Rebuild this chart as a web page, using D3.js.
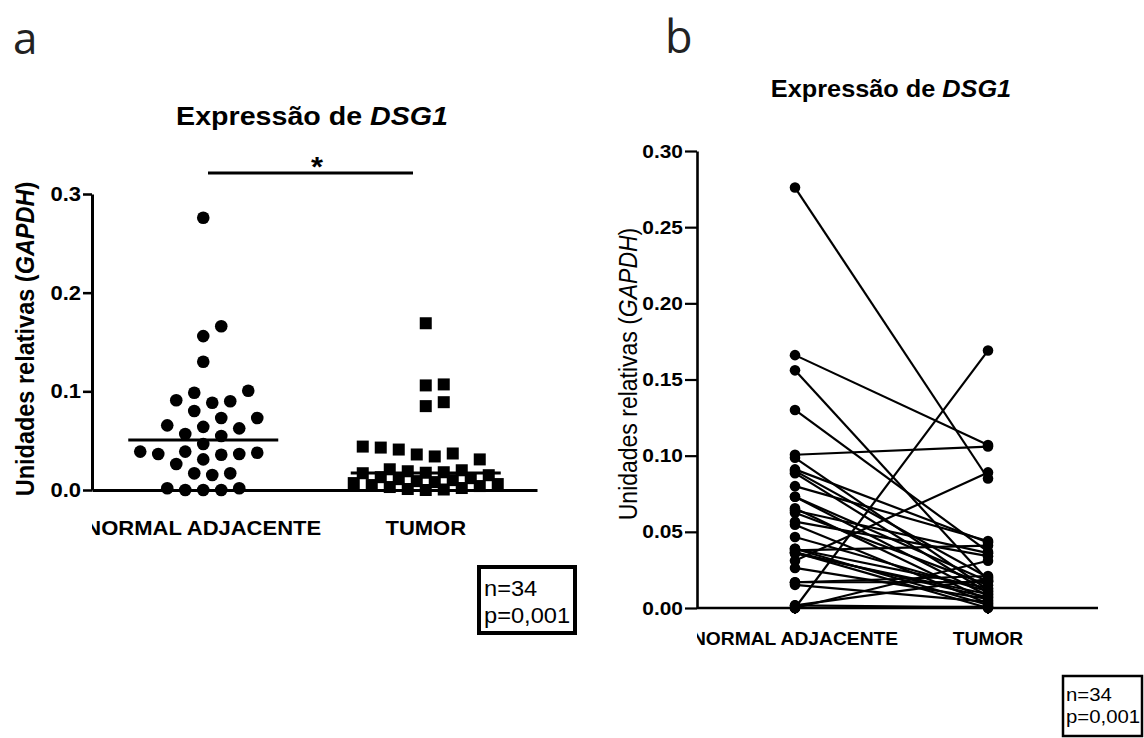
<!DOCTYPE html>
<html>
<head>
<meta charset="utf-8">
<script src="https://cdn.jsdelivr.net/npm/d3@7"></script>
<style>
  html, body { margin: 0; padding: 0; background: #ffffff; }
  svg { display: block; font-family: "Liberation Sans", Arial, Helvetica, sans-serif; }
</style>
</head>
<body>
<svg id="chart" width="1144" height="738"></svg>
<script>
// ---- data -------------------------------------------------------------
const categories = ["NORMAL ADJACENTE", "TUMOR"];

// relative DSG1 expression (GAPDH), paired per patient (index i = same patient)
const normalValues = [
  0.276, 0.166, 0.156, 0.130, 0.1006, 0.0986, 0.091, 0.0885, 0.090, 0.080,
  0.073, 0.073, 0.064, 0.0655, 0.0625, 0.0567, 0.0547, 0.0466, 0.0378, 0.0365,
  0.0389, 0.031, 0.0358, 0.0365, 0.0389, 0.0263, 0.0169, 0.0169, 0.0152, 0.0017,
  0.000, 0.000, 0.000, 0.0017
];
const tumorValues = [
  0.085, 0.107, 0.018, 0.037, 0.106, 0.012, 0.043, 0.010, 0.020, 0.044,
  0.008, 0.0175, 0.036, 0.005, 0.015, 0.034, 0.003, 0.011, 0.041, 0.007,
  0.013, 0.089, 0.009, 0.000, 0.002, 0.006, 0.021, 0.017, 0.004, 0.019,
  0.169, 0.001, 0.031, 0.0005
];

const yTicksA = [0, 0.1, 0.2, 0.3];
const yTicksB = [0, 0.05, 0.10, 0.15, 0.20, 0.25, 0.30];

const titleMain = "Expressão de ";
const titleGene = "DSG1";
const yLabelMain = "Unidades relativas (";
const yLabelGene = "GAPDH";
const yLabelEnd = ")";
const statsLines = ["n=34", "p=0,001"];
const significanceMark = "*";
const panelLetters = ["a", "b"];

// ---- setup ------------------------------------------------------------
const svg = d3.select("#chart");
const SX = 1.1; // horizontal widening of the lettering
const FONT = '"Liberation Sans", Arial, Helvetica, sans-serif';

// text placed at (x, y), widened horizontally
function wideText(parent, x, y, size, weight, anchor) {
  const g = parent.append("g").attr("transform", `translate(${x},${y}) scale(${SX},1)`);
  return g.append("text")
    .attr("font-size", size)
    .attr("font-weight", weight)
    .attr("text-anchor", anchor)
    .attr("fill", "#000");
}

function titleText(parent, x, y, size) {
  const t = wideText(parent, x, y, size, "bold", "middle");
  t.append("tspan").text(titleMain);
  t.append("tspan").attr("font-style", "italic").text(titleGene);
}

function yLabel(parent, x, y, size, weight) {
  const g = parent.append("g").attr("transform", `translate(${x},${y}) scale(${SX},1)`);
  const t = g.append("text")
    .attr("transform", "rotate(-90)")
    .attr("text-anchor", "middle")
    .attr("font-size", size)
    .attr("font-weight", weight)
    .attr("fill", "#000");
  t.append("tspan").text(yLabelMain);
  t.append("tspan").attr("font-style", "italic").text(yLabelGene);
  t.append("tspan").text(yLabelEnd);
}

function styleYAxis(g, tickLen, pad, size, axisWidth) {
  g.select(".domain").attr("stroke", "#000").attr("stroke-width", axisWidth);
  g.selectAll(".tick line").attr("stroke", "#000").attr("stroke-width", axisWidth * 0.85);
  g.selectAll(".tick text")
    .attr("x", null)
    .attr("font-size", size)
    .attr("font-weight", "bold")
    .attr("font-family", FONT)
    .attr("fill", "#000")
    .attr("transform", `translate(${-(tickLen + pad)},0) scale(${SX},1)`);
}

// column scatter layout: each point is pushed sideways (in half-slot steps,
// up to a maximum column half-width) until it no longer overlaps the points
// already placed; when the column is full it takes the least crowded spot
function dodge(values, yScale, step, minDist, maxSteps) {
  const order = d3.range(values.length).sort((a, b) => values[a] - values[b] || a - b);
  const placed = [];
  const offsets = new Array(values.length);
  for (const i of order) {
    const py = yScale(values[i]);
    let best = null, bestDist = -1;
    for (let k = 0; k <= 2 * maxSteps; k++) {
      const n = Math.ceil(k / 2);
      const cand = (k === 0 ? 0 : (k % 2 === 1 ? n : -n)) * step;
      const d = placed.length ? d3.min(placed, p => Math.hypot(p.x - cand, p.y - py)) : Infinity;
      if (d >= minDist) { best = cand; break; }
      if (d > bestDist + 0.5) { bestDist = d; best = cand; }
    }
    offsets[i] = best;
    placed.push({ x: best, y: py });
  }
  return offsets;
}

// ---- panel letters ----------------------------------------------------
svg.append("text").attr("x", 13).attr("y", 54)
  .attr("font-family", '"Open Sans", "Noto Sans", sans-serif')
  .attr("font-size", 44).attr("fill", "#222").text(panelLetters[0]);
svg.append("text").attr("x", 665).attr("y", 53)
  .attr("font-family", '"Open Sans", "Noto Sans", sans-serif')
  .attr("font-size", 45).attr("fill", "#222").text(panelLetters[1]);

// ======================================================================
// Panel a: column scatter with medians
// ======================================================================
const pa = svg.append("g");
const yA = d3.scaleLinear().domain([0, 0.3]).range([490, 194]);
const xA = d3.scalePoint().domain(categories).range([92, 537]).padding(0.5);

titleText(pa, 312, 125, 26);
yLabel(pa, 34, 339, 23.5, "bold");

// y axis
const yAxisA = pa.append("g").attr("transform", "translate(92,0)")
  .call(d3.axisLeft(yA).tickValues(yTicksA).tickFormat(d3.format(".1f")).tickSize(9).tickSizeOuter(0).tickPadding(2));
styleYAxis(yAxisA, 9, 2, 20, 3);

// x axis
const xAxisA = pa.append("g").attr("transform", `translate(0,${yA(0)})`)
  .call(d3.axisBottom(xA).tickSize(6).tickSizeOuter(0).tickFormat(""));
xAxisA.select(".domain").attr("stroke", "#000").attr("stroke-width", 3);
xAxisA.selectAll(".tick line").attr("stroke", "#000").attr("stroke-width", 2);

// category labels (cut at the y axis)
svg.append("clipPath").attr("id", "clipA").append("rect")
  .attr("x", 92).attr("y", 500).attr("width", 500).attr("height", 60);
const catA = pa.append("g").attr("clip-path", "url(#clipA)");
categories.forEach(c => wideText(catA, xA(c), 535, 20, "bold", "middle").text(c));

// points
const offN = dodge(normalValues, yA, 9, 16.5, 7);
const offT = dodge(tumorValues, yA, 9, 16.5, 8);

pa.append("g").selectAll("circle").data(normalValues).join("circle")
  .attr("cx", (d, i) => xA(categories[0]) + offN[i])
  .attr("cy", d => yA(d))
  .attr("r", 6.3)
  .attr("fill", "#000");

const sq = 12;
pa.append("g").selectAll("rect").data(tumorValues).join("rect")
  .attr("x", (d, i) => xA(categories[1]) + offT[i] - sq / 2)
  .attr("y", d => yA(d) - sq / 2)
  .attr("width", sq).attr("height", sq)
  .attr("fill", "#000");

// median lines
const medians = [d3.median(normalValues), d3.median(tumorValues)];
pa.append("g").selectAll("line").data(categories).join("line")
  .attr("x1", c => xA(c) - 75)
  .attr("x2", c => xA(c) + 75)
  .attr("y1", (c, i) => yA(medians[i]))
  .attr("y2", (c, i) => yA(medians[i]))
  .attr("stroke", "#000").attr("stroke-width", 3);

// significance bar
pa.append("line").attr("x1", 208).attr("x2", 413).attr("y1", 173).attr("y2", 173)
  .attr("stroke", "#000").attr("stroke-width", 3);
wideText(pa, 317, 176, 28, "bold", "middle").text(significanceMark);

// stats box
pa.append("rect").attr("x", 479).attr("y", 567).attr("width", 96).attr("height", 66)
  .attr("fill", "#fff").attr("stroke", "#000").attr("stroke-width", 4);
statsLines.forEach((s, i) => wideText(pa, 484, 596 + i * 27, 21.5, "normal", "start").text(s));

// ======================================================================
// Panel b: paired samples
// ======================================================================
const pb = svg.append("g");
const yB = d3.scaleLinear().domain([0, 0.3]).range([608, 151]);
const xB = d3.scalePoint().domain(categories).range([795, 988]);

titleText(pb, 891, 97, 23);
yLabel(pb, 637, 374, 23, "normal");

const yAxisB = pb.append("g").attr("transform", "translate(697,0)")
  .call(d3.axisLeft(yB).tickValues(yTicksB).tickFormat(d3.format(".2f")).tickSize(12).tickSizeOuter(0).tickPadding(2));
styleYAxis(yAxisB, 12, 2, 19, 2.6);

// x axis line and category ticks
pb.append("line").attr("x1", 697).attr("x2", 1098).attr("y1", yB(0)).attr("y2", yB(0))
  .attr("stroke", "#000").attr("stroke-width", 2.6);
pb.append("g").selectAll("line").data(categories).join("line")
  .attr("x1", c => xB(c)).attr("x2", c => xB(c))
  .attr("y1", yB(0)).attr("y2", yB(0) + 6)
  .attr("stroke", "#000").attr("stroke-width", 2);

svg.append("clipPath").attr("id", "clipB").append("rect")
  .attr("x", 697).attr("y", 615).attr("width", 447).attr("height", 50);
const catB = pb.append("g").attr("clip-path", "url(#clipB)");
categories.forEach(c => wideText(catB, xB(c), 645, 17.5, "bold", "middle").text(c));

// one line per patient
const pairs = normalValues.map((v, i) => [v, tumorValues[i]]);
pb.append("g").selectAll("line").data(pairs).join("line")
  .attr("x1", xB(categories[0])).attr("x2", xB(categories[1]))
  .attr("y1", d => yB(d[0])).attr("y2", d => yB(d[1]))
  .attr("stroke", "#000").attr("stroke-width", 2.2);

pb.append("g").selectAll("circle.n").data(normalValues).join("circle")
  .attr("cx", xB(categories[0])).attr("cy", d => yB(d)).attr("r", 5.3).attr("fill", "#000");
pb.append("g").selectAll("circle.t").data(tumorValues).join("circle")
  .attr("cx", xB(categories[1])).attr("cy", d => yB(d)).attr("r", 5.3).attr("fill", "#000");

// stats box
pb.append("rect").attr("x", 1063).attr("y", 676).attr("width", 79).attr("height", 60)
  .attr("fill", "#fff").attr("stroke", "#000").attr("stroke-width", 2.5);
statsLines.forEach((s, i) => wideText(pb, 1066, 701 + i * 22, 18.5, "normal", "start").text(s));
</script>
</body>
</html>
